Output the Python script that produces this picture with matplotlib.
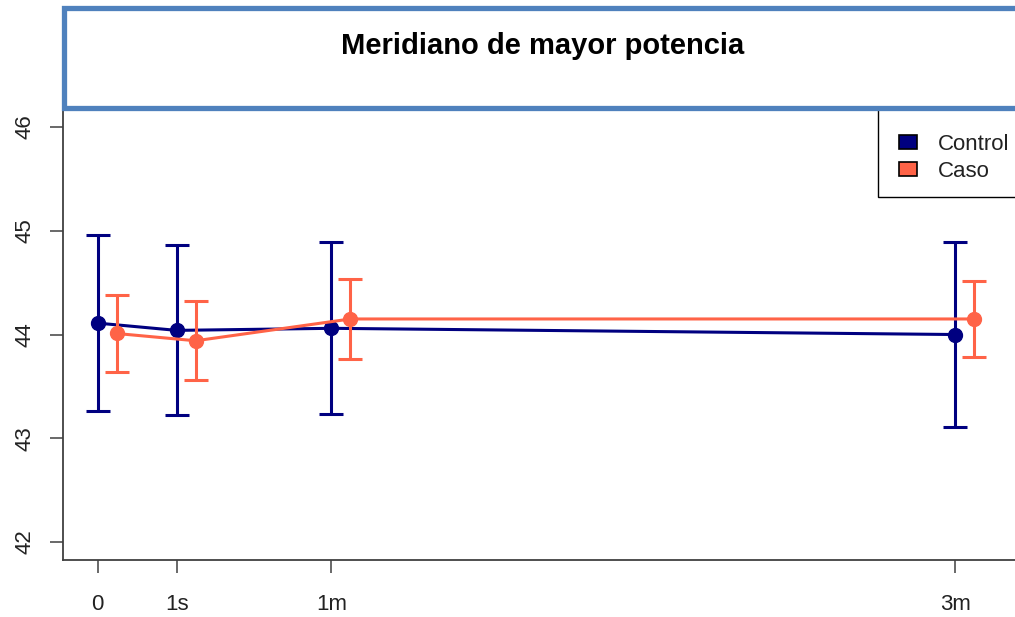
import numpy as np
import matplotlib
matplotlib.use("Agg")
import matplotlib.pyplot as plt
import matplotlib.patches as patches

# data
time_x = [0, 1, 2.96, 10.86]
time_labels = ["0", "1s", "1m", "3m"]
control_mean = [44.11, 44.04, 44.06, 44.00]
control_err = [0.85, 0.82, 0.83, 0.89]
caso_mean = [44.01, 43.94, 44.15, 44.15]
caso_err = [0.37, 0.38, 0.39, 0.37]
caso_shift = 0.24
y_ticks = [42, 43, 44, 45, 46]

plt.rcParams['font.family'] = ['Liberation Sans', 'DejaVu Sans']

W, H = 1015, 617
fig = plt.figure(figsize=(W / 100, H / 100), dpi=100)
ax = fig.add_axes([62.7 / W, (H - 560) / H, (1025 - 62.7) / W, 450 / H])

navy = '#000080'
tomato = '#ff6347'

ax.errorbar(time_x, control_mean, yerr=control_err, color=navy, lw=2.2,
            marker='o', ms=10, capsize=8.4, capthick=2.2, zorder=3)
caso_x = [t + caso_shift for t in time_x]
ax.errorbar(caso_x, caso_mean, yerr=caso_err, color=tomato, lw=2.2,
            marker='o', ms=10, capsize=8.4, capthick=2.2, zorder=4)

ax.set_xlim(-0.443, 11.74)
ax.set_ylim(41.827, 46.164)
ax.set_xticks(time_x)
ax.set_xticklabels(time_labels)
ax.set_yticks(y_ticks)
ax.set_yticklabels([str(v) for v in y_ticks], rotation=90, va='center')

for s in ax.spines.values():
    s.set_color('#404040')
    s.set_linewidth(1.3)
ax.tick_params(axis='both', length=9.4, width=1.1, color='#404040',
               labelsize=16, labelcolor='#222222')
ax.tick_params(axis='x', pad=15)
ax.tick_params(axis='y', pad=10.5)

# legend frame (R style, top edge hidden under the title box)
frame = patches.Rectangle(((878 - 62.7) / 962.3, 1 - 87 / 450),
                          (1040 - 878) / 962.3, 100 / 450, transform=ax.transAxes,
                          facecolor='white', edgecolor='black', lw=1.0, zorder=6,
                          clip_on=False)
ax.add_patch(frame)
handles = [patches.Patch(facecolor=navy, edgecolor='black', lw=1.2, label='Control'),
           patches.Patch(facecolor=tomato, edgecolor='black', lw=1.2, label='Caso')]
leg = ax.legend(handles=handles, loc='upper left',
                bbox_to_anchor=((899 - 62.7) / 962.3, 1 - 24 / 450),
                borderaxespad=0, fontsize=16, frameon=False,
                handlelength=0.8, handleheight=0.6, handletextpad=0.95,
                borderpad=0, labelspacing=0.25)
leg.set_zorder(7)
for t in leg.get_texts():
    t.set_color('#222222')

# boxed title on top
box = patches.Rectangle((63.5 / W, (H - 107.5) / H), (1040 - 63.5) / W, 99 / H,
                        transform=fig.transFigure, facecolor='white',
                        edgecolor='#4f81bd', lw=3.8, zorder=5)
fig.add_artist(box)
fig.text(543 / W, (H - 46) / H, "Meridiano de mayor potencia", ha='center',
         va='center', fontsize=21, fontweight='bold', zorder=6)

fig.savefig("out.png", dpi=100)
